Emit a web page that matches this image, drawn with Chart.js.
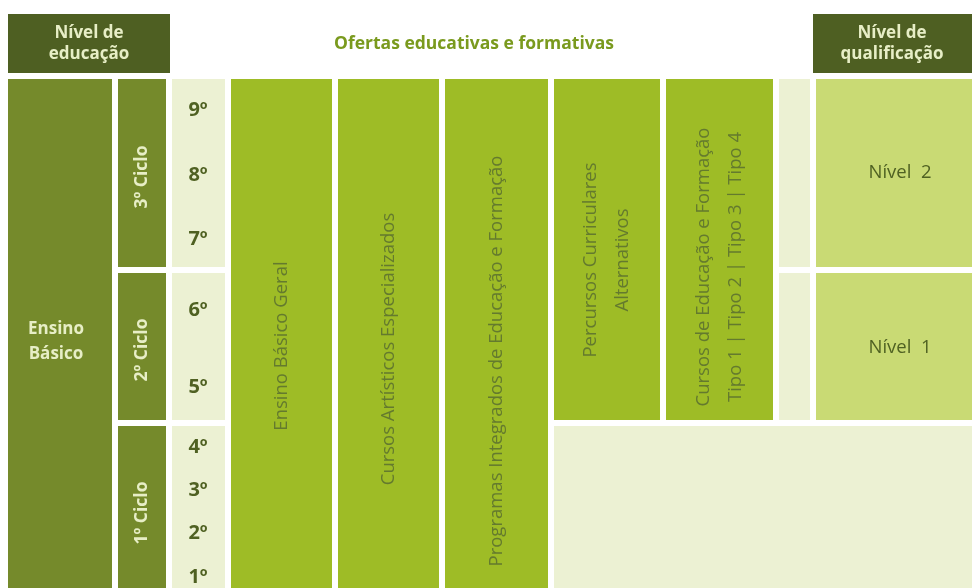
<!DOCTYPE html>
<html>
<head>
<meta charset="utf-8">
<script src="https://cdn.jsdelivr.net/npm/chart.js@4.4.1/dist/chart.umd.min.js"></script>
<style>
  html, body { margin: 0; padding: 0; background: #fff; }
  #wrap { width: 972px; height: 588px; }
</style>
</head>
<body>
<div id="wrap"><canvas id="chart" width="972" height="588"></canvas></div>
<script>
// Labels of the diagram
const titleText = 'Ofertas educativas e formativas';
const eduHeader = ['Nível de', 'educação'];
const qualHeader = ['Nível de', 'qualificação'];
const levelLabel = ['Ensino', 'Básico'];
const cicloLabels = ['3º Ciclo', '2º Ciclo', '1º Ciclo'];
const gradeLabels = ['9º', '8º', '7º', '6º', '5º', '4º', '3º', '2º', '1º'];
const offerLabels = [
  ['Ensino Básico Geral'],
  ['Cursos Artísticos Especializados'],
  ['Programas Integrados de Educação e Formação'],
  ['Percursos Curriculares', 'Alternativos'],
  ['Cursos de Educação e Formação', 'Tipo 1 | Tipo 2 | Tipo 3 | Tipo 4']
];
const qualLabels = ['Nível  2', 'Nível  1'];

// layout in axis units (x: 0..972, y: 0..588 top-down)
const C = {
  dark: '#4e5f22', ciclo: '#758a2b', bright: '#9ebc26',
  light: '#c9da74', pale: '#ecf1d3', headText: '#e7eec6',
  title: '#7a9a1e', grade: '#4f6122', offer: '#647a2e'
};
const rowBands = [[79, 267], [273, 420], [426, 588]];
const gradeY = [110, 175, 239, 310, 387, 447, 490, 533, 577];
const offerCols = [[231, 332, 346], [338, 439, 349], [445, 548, 361], [554, 660, 260], [666, 773, 267]];
const offerBottom = [588, 588, 588, 420, 420];

function rect(x0, x1, y0, y1, color) { return { x0, x1, y0, y1, color }; }

const cells = [
  rect(8, 170, 14, 73, C.dark),
  rect(813, 972, 14, 73, C.dark),
  rect(8, 112, 79, 588, C.ciclo),
  rect(554, 972, 426, 588, C.pale)
];
rowBands.forEach(b => {
  cells.push(rect(118, 166, b[0], b[1], C.ciclo));
  cells.push(rect(172, 225, b[0], b[1], C.pale));
});
offerCols.forEach((c, i) => cells.push(rect(c[0], c[1], 79, offerBottom[i], C.bright)));
[rowBands[0], rowBands[1]].forEach(b => {
  cells.push(rect(779, 810, b[0], b[1], C.pale));
  cells.push(rect(816, 972, b[0], b[1], C.light));
});

const texts = [];
function txt(s, x, y, font, color, rot) { texts.push({ s, x, y, font, color, rot: rot || 0 }); }
const F = '"Open Sans", Lato, sans-serif';
txt(titleText, 474, 44, 'bold 17.5px ' + F, C.title);
eduHeader.forEach((s, i) => txt(s, 89, 33 + i * 21, 'bold 17px ' + F, C.headText));
qualHeader.forEach((s, i) => txt(s, 892, 33 + i * 21, 'bold 17px ' + F, C.headText));
levelLabel.forEach((s, i) => txt(s, 56, 329 + i * 25, 'bold 17px ' + F, C.headText));
const cicloY = [177, 350, 513];
cicloLabels.forEach((s, i) => txt(s, 142, cicloY[i], 'bold 17.5px ' + F, C.headText, -Math.PI / 2));
gradeLabels.forEach((s, i) => txt(s, 198, gradeY[i], 'bold 20px ' + F, C.grade));
offerLabels.forEach((lines, i) => {
  const c = offerCols[i];
  const mid = (c[0] + c[1]) / 2;
  lines.forEach((s, j) => {
    const x = mid + (j - (lines.length - 1) / 2) * 32;
    txt(s, x, c[2], '18.5px ' + F, C.offer, -Math.PI / 2);
  });
});
txt(qualLabels[0], 900, 173, '18.5px ' + F, C.grade);
txt(qualLabels[1], 900, 348, '18.5px ' + F, C.grade);

const diagramPlugin = {
  id: 'diagram',
  beforeDatasetsDraw(chart) {
    const { ctx, scales: { x, y } } = chart;
    ctx.save();
    cells.forEach(r => {
      const px0 = x.getPixelForValue(r.x0), px1 = x.getPixelForValue(r.x1);
      const py0 = y.getPixelForValue(r.y0), py1 = y.getPixelForValue(r.y1);
      ctx.fillStyle = r.color;
      ctx.fillRect(px0, py0, px1 - px0, py1 - py0);
    });
    ctx.textAlign = 'center';
    ctx.textBaseline = 'middle';
    texts.forEach(t => {
      ctx.save();
      ctx.translate(x.getPixelForValue(t.x), y.getPixelForValue(t.y));
      ctx.rotate(t.rot);
      ctx.font = t.font;
      ctx.fillStyle = t.color;
      ctx.fillText(t.s, 0, 0);
      ctx.restore();
    });
    ctx.restore();
  }
};

new Chart(document.getElementById('chart'), {
  type: 'scatter',
  data: { datasets: [{ data: [] }] },
  options: {
    responsive: false,
    animation: false,
    layout: { padding: 0 },
    plugins: { legend: { display: false }, tooltip: { enabled: false } },
    scales: {
      x: { type: 'linear', min: 0, max: 972, display: false },
      y: { type: 'linear', min: 0, max: 588, reverse: true, display: false }
    }
  },
  plugins: [diagramPlugin]
});
</script>
</body>
</html>
